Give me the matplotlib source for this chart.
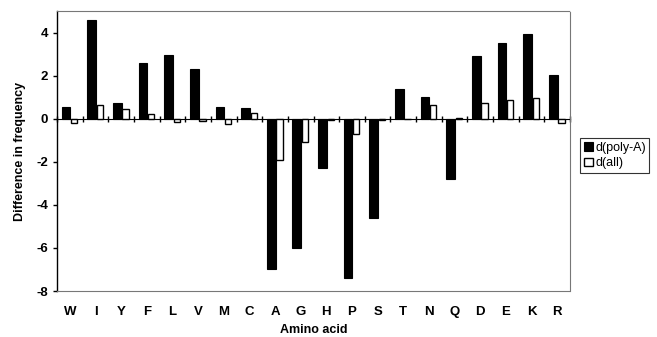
import numpy as np
import matplotlib
matplotlib.use('Agg')
import matplotlib.pyplot as plt

# 氨基酸频率差异数据
amino_acids = ['W', 'I', 'Y', 'F', 'L', 'V', 'M', 'C', 'A', 'G',
               'H', 'P', 'S', 'T', 'N', 'Q', 'D', 'E', 'K', 'R']
d_poly_a = [0.55, 4.6, 0.75, 2.6, 2.95, 2.3, 0.55, 0.5, -7.0, -6.0,
            -2.3, -7.4, -4.6, 1.4, 1.0, -2.8, 2.9, 3.5, 3.95, 2.05]
d_all = [-0.2, 0.65, 0.45, 0.2, -0.15, -0.1, -0.25, 0.25, -1.9, -1.1,
         -0.05, -0.7, -0.05, 0.0, 0.65, 0.05, 0.75, 0.85, 0.95, -0.2]
y_ticks = [-8, -6, -4, -2, 0, 2, 4]

plt.rcParams['font.family'] = ['Liberation Sans', 'DejaVu Sans']

fig = plt.figure(figsize=(6.57, 3.37), dpi=100)
ax = fig.add_axes([57 / 657, 1 - 291 / 337, 513 / 657, 280 / 337])

x = np.arange(len(amino_acids))
w = 0.34
ax.bar(x - 0.15, d_poly_a, w, color='black', edgecolor='black', linewidth=0.8, label='d(poly-A)')
ax.bar(x + 0.17, d_all, w * 0.72, color='white', edgecolor='black', linewidth=1.0, label='d(all)')

ax.set_xlim(-0.5, len(amino_acids) - 0.5)
ax.set_ylim(-8, 5)
ax.set_yticks(y_ticks)
ax.set_yticklabels([str(v) for v in y_ticks], fontsize=9.5, fontweight='bold')
ax.tick_params(axis='y', direction='out', length=3, width=1)

ax.set_xticks(x)
ax.set_xticklabels(amino_acids, fontsize=9.5, fontweight='bold')
ax.tick_params(axis='x', length=0, pad=11)

for s in ['top', 'right', 'bottom']:
    ax.spines[s].set_color('#777777')
    ax.spines[s].set_linewidth(0.8)
    ax.spines[s].set_linestyle((0, (2, 1)))
ax.spines['left'].set_linewidth(1.0)

# 零线及分隔刻度
sec = ax.secondary_xaxis(8 / 13)
sec.set_xticks(np.arange(len(amino_acids) + 1) - 0.5)
sec.set_xticklabels([])
sec.tick_params(direction='inout', length=5, width=1)
sec.spines['bottom'].set_linewidth(1.2)

ax.set_ylabel('Difference in frequency', fontsize=9, fontweight='bold', labelpad=7)
ax.set_xlabel('Amino acid', fontsize=9, fontweight='bold', labelpad=4)

leg = fig.legend(loc='upper left', bbox_to_anchor=(580 / 657, 1 - 138 / 337),
                 fontsize=9, frameon=True, fancybox=False, edgecolor='black',
                 handlelength=0.7, handleheight=0.7, handletextpad=0.2,
                 borderpad=0.3, labelspacing=0.3, borderaxespad=0)
leg.get_frame().set_linewidth(0.8)

fig.savefig('out.png', dpi=100)
